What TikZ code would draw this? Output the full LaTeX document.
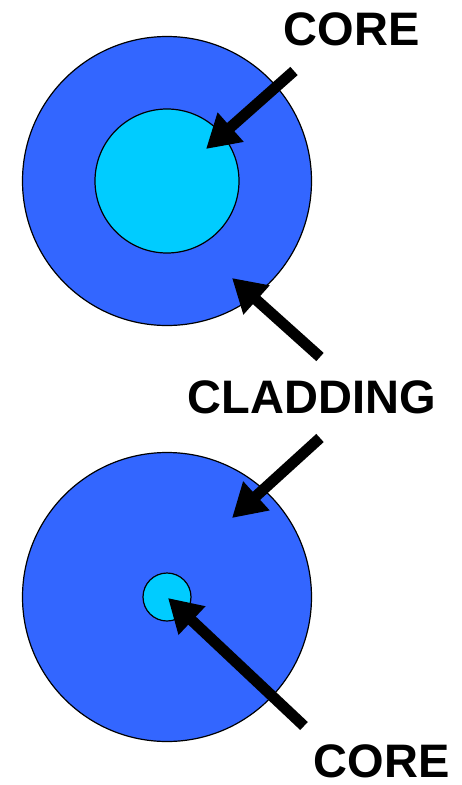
\documentclass[tikz,border=0pt]{standalone}
\usepackage{fontspec}
\setmainfont{Liberation Sans}
\usetikzlibrary{arrows.meta}
\definecolor{clad}{HTML}{3366FF}
\definecolor{corec}{HTML}{00CCFF}
\begin{document}
\begin{tikzpicture}[x=1pt,y=-1pt,
  fibre/.style={circle,draw=black,line width=1.2pt,inner sep=0pt},
  lbl/.style={font=\bfseries\fontsize{47}{50}\selectfont,anchor=base,inner sep=0pt},
  pointer/.style={line width=11pt,-{Triangle[length=33pt,width=37pt]}}]
\useasboundingbox (0,0) rectangle (462,785);
% top fibre
\node[fibre,fill=clad,minimum size=289pt] (clad1) at (167,181) {};
\node[fibre,fill=corec,minimum size=144pt] (core1) at (167,181) {};
% bottom fibre
\node[fibre,fill=clad,minimum size=289pt] (clad2) at (167,597) {};
\node[fibre,fill=corec,minimum size=48pt] (core2) at (167,597) {};
% labels
\node[lbl] (coretop) at (351.5,45) {CORE};
\node[lbl] (cladding) at (312,413) {CLADDING};
\node[lbl] (corebot) at (381.5,777) {CORE};
% arrow end points
\coordinate (t1) at (294,71);  \coordinate (h1) at (206,149);
\coordinate (t2) at (320,357); \coordinate (h2) at (232,278);
\coordinate (t3) at (320,438); \coordinate (h3) at (232,518);
\coordinate (t4) at (304,726); \coordinate (h4) at (168,598);
\draw[pointer] (t1) -- (h1);
\draw[pointer] (t2) -- (h2);
\draw[pointer] (t3) -- (h3);
\draw[pointer] (t4) -- (h4);
\end{tikzpicture}
\end{document}
